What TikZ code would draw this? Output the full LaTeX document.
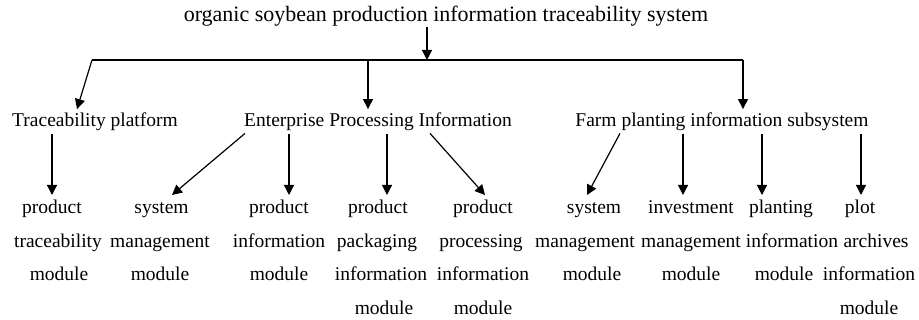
\documentclass[tikz,border=0pt]{standalone}
\usepackage{fontspec}
\setmainfont{Liberation Serif}
\usetikzlibrary{arrows.meta,calc}
\newcommand{\mvline}[2]{\hspace*{#1}#2}
\tikzset{
  arr/.style={line width=1.2pt,-{Triangle[length=10pt,width=10pt]}},
  bus/.style={line width=1.2pt},
  ttl/.style={inner sep=0pt,anchor=base,font=\fontsize{22}{26}\selectfont},
  lvl/.style={inner sep=0pt,anchor=base,font=\fontsize{19.5}{24}\selectfont},
  modl/.style={inner sep=0pt,anchor=base,align=center,font=\fontsize{19.5}{33.5}\selectfont}
}
\begin{document}
\begin{tikzpicture}[x=1pt,y=-1pt]
\useasboundingbox (0,0) rectangle (919,320);
% title
\node[ttl] (title) at (446,22) {organic soybean production information traceability system};
\coordinate (tj) at (427,60);
\coordinate (tl) at (92,60);
\coordinate (tr) at (743,60);
\coordinate (tm) at (368,60);
\draw[arr] (title.south -| tj) -- (tj);
\draw[bus] (tl) -- (tr);
% level 2
\node[lvl] (tp) at (95,127) {Traceability platform};
\node[lvl] (ep) at (378,127) {Enterprise Processing Information};
\node[lvl] (fp) at (722,127) {Farm planting information subsystem};
\draw[arr] (tl) -- ($(tp.north)+(-18,-4)$);
\draw[arr] (tm) -- ($(tm |- ep.north)+(0,-4)$);
\draw[arr] (tr) -- ($(tr |- fp.north)+(0,-4)$);
% modules (base = last line's baseline)
\node[modl] (m1) at (58,281) {\mvline{-12pt}{product}\\traceability\\\mvline{2pt}{module}};
\node[modl] (m2) at (160,281) {\mvline{3pt}{system}\\management\\module};
\node[modl] (m3) at (279,281) {product\\information\\module};
\node[modl] (m4) at (381,314.5) {\mvline{-6pt}{product}\\\mvline{-8pt}{packaging}\\information\\\mvline{6pt}{module}};
\node[modl] (m5) at (483,314.5) {product\\\mvline{-4pt}{processing}\\information\\module};
\node[modl] (m6) at (585,281) {\mvline{18pt}{system}\\management\\\mvline{14pt}{module}};
\node[modl] (m7) at (691,281) {investment\\management\\module};
\node[modl] (m8) at (792,281) {\mvline{-22pt}{planting}\\information\\\mvline{-16pt}{module}};
\node[modl] (m9) at (869,314.5) {\mvline{-18pt}{plot}\\\mvline{14pt}{archives}\\information\\module};
% level 3 connectors (tips 19pt above the first baseline)
\draw[arr] ($(tp.south)+(-43,3)$) -- ($(m1.base)+(-6,-86)$);
\draw[arr] ($(ep.south)+(-133,2)$) -- ($(m2.base)+(12,-86)$);
\draw[arr] ($(m3.north |- ep.south)+(10,3)$) -- ($(m3.base)+(10,-86)$);
\draw[arr] ($(m4.north |- ep.south)+(6,3)$) -- ($(m4.base)+(6,-119.5)$);
\draw[arr] ($(ep.south)+(52,2)$) -- ($(m5.base)+(2,-119.5)$);
\draw[arr] ($(fp.south)+(-102,2)$) -- ($(m6.base)+(2,-86)$);
\draw[arr] ($(m7.north |- fp.south)+(-8,3)$) -- ($(m7.base)+(-8,-86)$);
\draw[arr] ($(m8.north |- fp.south)+(-30,3)$) -- ($(m8.base)+(-30,-86)$);
\draw[arr] ($(m9.north |- fp.south)+(-8,3)$) -- ($(m9.base)+(-8,-119.5)$);
\end{tikzpicture}
\end{document}
